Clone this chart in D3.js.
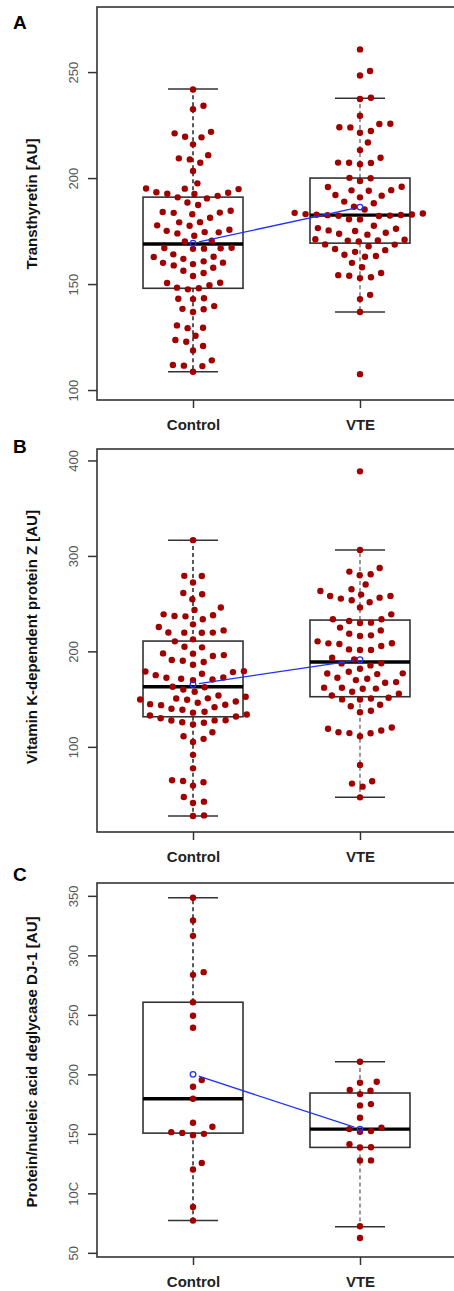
<!DOCTYPE html>
<html>
<head>
<meta charset="utf-8">
<script src="https://cdn.jsdelivr.net/npm/d3@7"></script>
<style>
  html, body { margin: 0; padding: 0; background: #fff; }
  svg { display: block; font-family: "Liberation Sans", Arial, sans-serif; }
</style>
</head>
<body>
<div id="chart"></div>
<script>
// groups on the x axis
const groups = ["Control", "VTE"];

// A - Transthyretin
const transControl = [241.8, 232.5, 234.1, 221.1, 219.5, 219.2, 221.8, 215.9, 209.3, 208.8, 207.2, 210.8, 203.3, 197.5,
  195.1, 193.1, 191.6, 190.4, 192.5, 194.8, 190.9, 192.6, 193.3, 195.0, 187.3, 188.5, 184.0, 182.9, 181.3, 183.6, 183.7, 184.6,
  179.2, 175.6, 175.1, 174.4, 177.5, 179.1, 174.5, 177.7, 172.8, 173.9, 170.4, 170.1, 166.6, 166.9, 167.1, 166.7, 167.0,
  162.9, 161.9, 164.0, 162.8, 160.0, 158.8, 159.4, 160.7, 157.7, 160.1, 156.3, 153.8, 155.2, 150.5, 148.3, 148.0, 147.5,
  149.4, 150.6, 142.9, 143.1, 143.3, 139.6, 138.3, 136.8, 138.1, 130.5, 129.2, 129.4, 125.6, 123.6, 122.8, 120.8, 118.7,
  111.8, 111.5, 111.3, 114.0, 108.6];
const transVTE = [260.7, 248.4, 250.5, 237.3, 237.9, 229.4, 223.9, 224.0, 225.6, 225.5, 221.4, 222.2, 216.8, 213.2, 209.6,
  207.2, 207.3, 206.5, 207.1, 200.1, 198.6, 199.9, 194.3, 191.7, 194.2, 190.9, 194.0, 195.9, 192.0, 195.8, 188.1, 188.9, 186.5,
  185.2, 183.3, 182.2, 182.6, 182.3, 182.5, 180.5, 180.6, 182.1, 182.7, 182.8, 183.0, 183.6,
  176.4, 175.3, 173.7, 177.5, 173.3, 175.0, 174.2, 176.1, 171.1, 170.6, 170.1, 170.5, 170.9,
  167.8, 166.0, 168.7, 165.2, 168.6, 163.8, 166.5, 163.2, 160.0, 157.9, 162.9,
  154.2, 153.9, 152.8, 153.2, 155.2, 142.9, 144.9, 136.8, 107.5];
// [lower whisker, Q1, median, Q3, upper whisker]
const transStats = [[108.6, 148.0, 168.9, 191.0, 242.0], [136.8, 169.3, 182.5, 200.0, 237.7]];
const transMeans = [169.3, 186.3];
const transTicks = [100, 150, 200, 250];
const transTickLabels = ["100", "150", "200", "250"];

// B - Vitamin K-dependent protein Z
const protzControl = [316.5, 279.0, 279.1, 272.1, 261.2, 259.8, 254.6, 245.9, 243.3, 238.8, 237.0, 236.7, 233.6, 237.8,
  225.5, 228.3, 219.5, 219.6, 219.7, 219.8, 222.0, 212.6, 210.5, 204.9, 204.2,
  196.1, 190.9, 190.2, 197.6, 186.0, 188.8, 195.1, 197.9,
  179.3, 176.6, 175.1, 170.6, 169.9, 172.7, 171.4, 172.4, 178.3, 179.0,
  162.5, 162.9, 160.1, 157.7, 153.8, 152.5,
  150.7, 146.2, 144.7, 141.6, 139.9, 147.5, 150.8, 143.7, 144.1, 149.3, 149.6,
  136.7, 132.8, 130.0, 127.6, 125.8, 135.8, 138.9, 123.4, 125.2, 127.7, 127.9, 131.8, 133.9,
  111.1, 108.4, 115.3, 105.2, 91.6, 77.5, 65.0, 64.3, 59.4, 62.9, 47.5, 41.2, 42.6, 27.6, 28.2];
const protzVTE = [388.6, 306.3, 287.4, 280.8, 279.7, 283.6, 265.1, 263.3, 270.0, 258.0, 256.3, 253.5, 251.4, 255.3, 258.1,
  259.5, 245.9, 238.8, 230.1, 229.7, 224.9, 231.8, 233.6, 233.7, 218.6, 216.8, 222.0, 216.1, 208.4, 205.6, 208.5, 201.4,
  201.5, 202.1, 207.7, 210.5,
  191.6, 187.4, 181.8, 185.3, 187.5, 193.4,
  176.9, 177.0, 172.4, 178.7, 169.9, 171.4, 176.2, 167.2, 167.8,
  161.9, 162.0, 157.7, 160.9, 161.0,
  150.7, 149.6, 149.7, 151.4, 153.8, 155.6,
  142.6, 144.1, 136.3, 137.8,
  118.9, 115.3, 114.3, 111.1, 114.4, 117.1, 120.3,
  81.1, 61.5, 58.3, 63.9, 47.1];
const protzStats = [[27.6, 131.5, 163.0, 210.8, 316.5], [47.1, 152.5, 188.8, 232.8, 306.3]];
const protzMeans = [165.4, 191.3];
const protzTicks = [100, 200, 300, 400];
const protzTickLabels = ["100", "200", "300", "400"];

// C - Protein/nucleic acid deglycase DJ-1
const dj1Control = [348.4, 329.3, 316.4, 283.6, 285.9, 260.6, 249.3, 239.2, 195.2, 189.6, 179.5, 159.3, 155.9, 151.4,
  150.8, 148.9, 150.0, 120.0, 125.6, 88.6, 77.1];
const dj1VTE = [210.6, 193.8, 192.9, 186.2, 183.4, 186.8, 173.9, 175.0, 163.5, 154.0, 151.7, 152.3, 155.1, 141.3,
  138.6, 138.7, 127.6, 127.7, 72.3, 62.5];
const dj1Stats = [[77.1, 150.6, 179.5, 260.6, 348.4], [72.0, 138.6, 154.0, 184.3, 210.6]];
const dj1Means = [200.0, 154.0];
const dj1Ticks = [50, 100, 150, 200, 250, 300, 350];
const dj1TickLabels = ["50", "10C", "150", "200", "250", "300", "350"];

var width = 454, height = 1291;
var left = 97, right = 456;

var panels = [
  { letter: "A", title: "Transthyretin [AU]", values: [transControl, transVTE], stats: transStats, means: transMeans,
    ticks: transTicks, tickLabels: transTickLabels, domain: [95.3, 280.7], top: 7, bottom: 400, titleY: 204, letterY: 29 },
  { letter: "B", title: "Vitamin K-dependent protein Z [AU]", values: [protzControl, protzVTE], stats: protzStats, means: protzMeans,
    ticks: protzTicks, tickLabels: protzTickLabels, domain: [10.8, 412], top: 449, bottom: 832, titleY: 637, letterY: 453 },
  { letter: "C", title: "Protein/nucleic acid deglycase DJ-1 [AU]", values: [dj1Control, dj1VTE], stats: dj1Stats, means: dj1Means,
    ticks: dj1Ticks, tickLabels: dj1TickLabels, domain: [46.5, 360.8], top: 883, bottom: 1257, titleY: 1062, letterY: 881 }
];

var svg = d3.select("#chart").append("svg")
  .attr("width", width)
  .attr("height", height);

var x = d3.scaleLinear()
  .domain([0.425, 2.575])
  .range([left, right]);

var boxHalf = 50, capHalf = 25, dotR = 3.2, dotGap = 11;

// beeswarm, ascending priority: each point goes as close to the centre as it can without overlap
function swarm(py, d) {
  var order = d3.range(py.length).sort(function (a, b) { return py[b] - py[a]; });
  var placed = [], out = [];
  order.forEach(function (i) {
    var yy = py[i];
    var near = placed.filter(function (p) { return Math.abs(p.y - yy) < d; });
    var cands = [0];
    near.forEach(function (p) {
      var dx = Math.sqrt(d * d - (p.y - yy) * (p.y - yy));
      cands.push(p.x + dx, p.x - dx);
    });
    cands = cands.map(function (c, k) { return { c: c, k: k }; })
      .sort(function (a, b) { return (Math.abs(a.c) - Math.abs(b.c)) || (a.k - b.k); })
      .map(function (o) { return o.c; });
    var xi = cands.find(function (c) {
      return near.every(function (p) { return (p.x - c) * (p.x - c) + (p.y - yy) * (p.y - yy) >= d * d - 0.01; });
    });
    placed.push({ x: xi, y: yy });
    out[i] = xi;
  });
  return out;
}

panels.forEach(function (p) {
  var y = d3.scaleLinear().domain(p.domain).range([p.bottom, p.top]);
  var g = svg.append("g");

  // panel letter
  g.append("text")
    .attr("x", 13).attr("y", p.letterY)
    .style("font-size", "19px").style("font-weight", "bold")
    .text(p.letter);

  // y axis title
  g.append("text")
    .attr("transform", "translate(37," + p.titleY + ") rotate(-90)")
    .style("text-anchor", "middle")
    .style("font-size", "15px").style("font-weight", "bold")
    .style("fill", "#111")
    .text(p.title);

  // y axis
  var yAxis = g.append("g")
    .attr("transform", "translate(" + left + ",0)")
    .call(d3.axisLeft(y).tickValues(p.ticks).tickSize(9)
      .tickFormat(function (d, i) { return p.tickLabels[i]; }));
  yAxis.select(".domain").remove();
  yAxis.selectAll("line").attr("stroke", "#333").attr("stroke-width", 1.5);
  yAxis.selectAll("text")
    .attr("transform", "rotate(-90)")
    .attr("x", 0).attr("y", -19).attr("dy", 0)
    .style("text-anchor", "middle")
    .style("font-size", "13px")
    .style("font-family", "'Liberation Sans', Arial, sans-serif")
    .attr("fill", "#555");

  // x axis
  var xAxis = g.append("g")
    .attr("transform", "translate(0," + p.bottom + ")")
    .call(d3.axisBottom(x).tickValues([1, 2]).tickSize(8)
      .tickFormat(function (d) { return groups[d - 1]; }));
  xAxis.select(".domain").remove();
  xAxis.selectAll("line").attr("stroke", "#333").attr("stroke-width", 1.5);
  xAxis.selectAll("text")
    .attr("y", 30).attr("dy", 0)
    .style("font-size", "15px").style("font-weight", "bold")
    .style("font-family", "'Liberation Sans', Arial, sans-serif")
    .attr("fill", "#222");

  // plot frame (right side falls outside the picture)
  g.append("rect")
    .attr("x", left).attr("y", p.top)
    .attr("width", right - left).attr("height", p.bottom - p.top)
    .attr("fill", "none").attr("stroke", "#333").attr("stroke-width", 1.6);

  // boxplots
  p.stats.forEach(function (s, i) {
    var cx = x(i + 1);
    var wcol = i === 0 ? "#222" : "#777";
    // whiskers
    g.append("line").attr("x1", cx).attr("x2", cx).attr("y1", y(s[3])).attr("y2", y(s[4]))
      .attr("stroke", wcol).attr("stroke-width", 1.5).attr("stroke-dasharray", "4,3");
    g.append("line").attr("x1", cx).attr("x2", cx).attr("y1", y(s[1])).attr("y2", y(s[0]))
      .attr("stroke", wcol).attr("stroke-width", 1.5).attr("stroke-dasharray", "4,3");
    // caps
    [s[0], s[4]].forEach(function (v) {
      g.append("line").attr("x1", cx - capHalf).attr("x2", cx + capHalf).attr("y1", y(v)).attr("y2", y(v))
        .attr("stroke", "#333").attr("stroke-width", 1.5);
    });
    g.append("rect")
      .attr("x", cx - boxHalf).attr("y", y(s[3]))
      .attr("width", boxHalf * 2).attr("height", y(s[1]) - y(s[3]))
      .attr("fill", "none").attr("stroke", "#333").attr("stroke-width", 1.6);
    g.append("line").attr("x1", cx - boxHalf).attr("x2", cx + boxHalf).attr("y1", y(s[2])).attr("y2", y(s[2]))
      .attr("stroke", "#000").attr("stroke-width", 3.4);
  });

  // dots
  p.values.forEach(function (vals, i) {
    var py = vals.map(function (v) { return y(v); });
    var off = swarm(py, dotGap);
    g.selectAll(null)
      .data(vals)
      .enter()
      .append("circle")
      .attr("cx", function (d, k) { return x(i + 1) + off[k]; })
      .attr("cy", function (d) { return y(d); })
      .attr("r", dotR)
      .style("fill", "#a00000");
  });

  // means: line with gaps at the points, then open circles
  var m0 = [x(1), y(p.means[0])], m1 = [x(2), y(p.means[1])];
  var len = Math.hypot(m1[0] - m0[0], m1[1] - m0[1]);
  var ux = (m1[0] - m0[0]) / len, uy = (m1[1] - m0[1]) / len, gap = 6;
  g.append("line")
    .attr("x1", m0[0] + ux * gap).attr("y1", m0[1] + uy * gap)
    .attr("x2", m1[0] - ux * gap).attr("y2", m1[1] - uy * gap)
    .attr("stroke", "#1f2fff").attr("stroke-width", 1.3);
  g.selectAll(null)
    .data(p.means)
    .enter()
    .append("circle")
    .attr("cx", function (d, i) { return x(i + 1); })
    .attr("cy", function (d) { return y(d); })
    .attr("r", 2.8)
    .style("fill", "none")
    .style("stroke", "#1f2fff")
    .style("stroke-width", 1.3);
});
</script>
</body>
</html>
